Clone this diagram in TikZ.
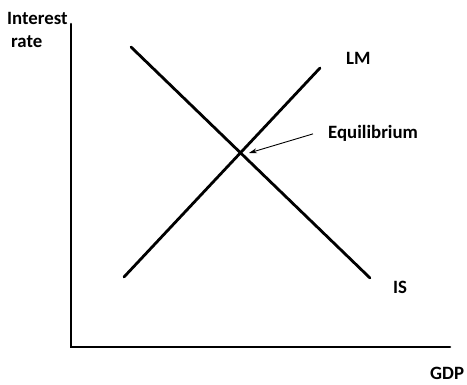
\documentclass[tikz,border=0pt]{standalone}
\usepackage{fontspec}
\setmainfont{Carlito}
\usetikzlibrary{arrows.meta, positioning}

\begin{document}
\begin{tikzpicture}[
    x=1pt, y=-1pt,
    axis/.style={line width=2.6pt, line cap=round, line join=miter},
    curve/.style={line width=2.8pt, line cap=round},
    lbl/.style={font=\bfseries\fontsize{18.8}{22}\selectfont, inner sep=0pt, anchor=base west},
    pointer/.style={-{Stealth[length=8pt, width=5pt]}, line width=0.9pt}
]
\useasboundingbox (0,0) rectangle (467,385);

% axes
\coordinate (top) at (71,24);
\coordinate (origin) at (71,347);
\coordinate (right) at (450,347);
\draw[axis] (top) -- (origin) -- (right);

% LM and IS curves
\coordinate (lmlow) at (124,277);
\coordinate (lmhigh) at (320,68);
\coordinate (ishigh) at (131,47);
\coordinate (islow) at (370,278);
\draw[curve] (lmlow) -- (lmhigh);
\draw[curve] (ishigh) -- (islow);
\coordinate (eq) at (249,153);

% labels
\node[lbl] (interest) at (7,25) {Interest};
\node[lbl] (rate) at (11,48) {rate};
\node[lbl] (lm) at (346,65) {LM};
\node[lbl] (is) at (393,294) {IS};
\node[lbl] (gdp) at (430,380) {GDP};
\node[lbl] (equil) at (328,139) {Equilibrium};

\draw[pointer] (equil.west) ++(-15,0) coordinate (tail) -- (eq);
\end{tikzpicture}
\end{document}
